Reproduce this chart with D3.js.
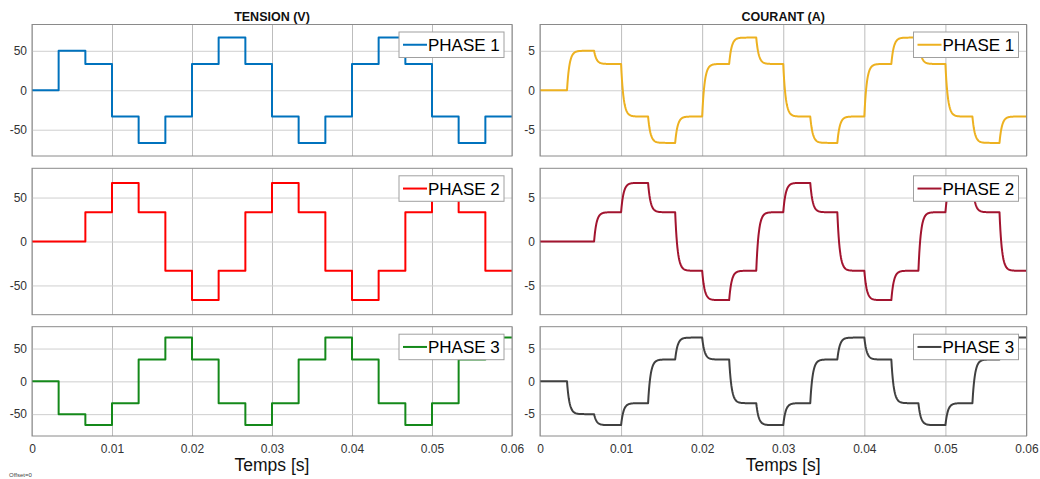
<!DOCTYPE html>
<html>
<head>
<meta charset="utf-8">
<script src="https://cdn.jsdelivr.net/npm/d3@7"></script>
<style>
  html, body { margin: 0; padding: 0; background: #fff; }
  svg { display: block; font-family: "Liberation Sans", Arial, Helvetica, sans-serif; }
</style>
</head>
<body>
<svg id="chart" width="1040" height="479"></svg>
<script>
// Switching instants of the six-step inverter (s); each level holds until the next instant
const switchTimes = [0, 0.00333, 0.00667, 0.01, 0.01333, 0.01667, 0.02, 0.02333, 0.02667,
                     0.03, 0.03333, 0.03667, 0.04, 0.04333, 0.04667, 0.05, 0.05333, 0.05667];
const tEnd = 0.06;

// Phase voltages (V) on each interval
const voltage1 = [0, 50, 33.3, -33.3, -66.7, -33.3, 33.3, 66.7, 33.3, -33.3, -66.7, -33.3, 33.3, 66.7, 33.3, -33.3, -66.7, -33.3];
const voltage2 = [0, 0, 33.3, 66.7, 33.3, -33.3, -66.7, -33.3, 33.3, 66.7, 33.3, -33.3, -66.7, -33.3, 33.3, 66.7, 33.3, -33.3];
const voltage3 = [0, -50, -66.7, -33.3, 33.3, 66.7, 33.3, -33.3, -66.7, -33.3, 33.3, 66.7, 33.3, -33.3, -66.7, -33.3, 33.3, 66.7];

// Settled phase currents (A) on each interval
const current1 = [0, 5, 3.33, -3.33, -6.67, -3.33, 3.33, 6.67, 3.33, -3.33, -6.67, -3.33, 3.33, 6.67, 3.33, -3.33, -6.67, -3.33];
const current2 = [0, 0, 3.33, 6.67, 3.33, -3.33, -6.67, -3.33, 3.33, 6.67, 3.33, -3.33, -6.67, -3.33, 3.33, 6.67, 3.33, -3.33];
const current3 = [0, -5, -6.67, -3.33, 3.33, 6.67, 3.33, -3.33, -6.67, -3.33, 3.33, 6.67, 3.33, -3.33, -6.67, -3.33, 3.33, 6.67];
// RL time constant of the load (s)
const tauRL = 0.0003;

const phaseNames = ["PHASE 1", "PHASE 2", "PHASE 3"];
const xTicks = [0, 0.01, 0.02, 0.03, 0.04, 0.05, 0.06];
const xTickLabels = ["0", "0.01", "0.02", "0.03", "0.04", "0.05", "0.06"];
const vTicks = [-50, 0, 50];
const vTickLabels = ["-50", "0", "50"];
const iTicks = [-5, 0, 5];
const iTickLabels = ["-5", "0", "5"];
const vLimit = 83.3;
const iLimit = 8.33;

const voltageColors = ["#0072BD", "#FF0000", "#14891A"];
const currentColors = ["#EDB120", "#A2142F", "#404040"];

const svg = d3.select("#chart");

const columns = [
  { x0: 32, x1: 512, title: "TENSION (V)", series: [voltage1, voltage2, voltage3],
    colors: voltageColors, ticks: vTicks, tickLabels: vTickLabels, limit: vLimit, stepped: true },
  { x0: 540, x1: 1026.5, title: "COURANT (A)", series: [current1, current2, current3],
    colors: currentColors, ticks: iTicks, tickLabels: iTickLabels, limit: iLimit, stepped: false }
];
const rows = [
  { y0: 24.5, y1: 156 },
  { y0: 168.3, y1: 314.7 },
  { y0: 326.7, y1: 436 }
];

// Step trace: one point per interval start plus the final instant
function stepPoints(levels) {
  const pts = levels.map((v, k) => [switchTimes[k], v]);
  pts.push([tEnd, levels[levels.length - 1]]);
  return pts;
}

// Current trace: first-order settling toward each interval's level
function lagPoints(levels) {
  const pts = [];
  let i = 0;
  levels.forEach((level, k) => {
    const t0 = switchTimes[k];
    const t1 = k + 1 < switchTimes.length ? switchTimes[k + 1] : tEnd;
    const start = i;
    const n = 60;
    for (let j = 0; j <= n; j++) {
      const dt = (t1 - t0) * j / n;
      const val = level + (start - level) * Math.exp(-dt / tauRL);
      pts.push([t0 + dt, val]);
    }
    i = level + (start - level) * Math.exp(-(t1 - t0) / tauRL);
  });
  return pts;
}

let clipId = 0;
columns.forEach((col, ci) => {
  const x = d3.scaleLinear().domain([0, tEnd]).range([col.x0, col.x1]);

  // column title
  svg.append("text")
    .attr("x", (col.x0 + col.x1) / 2)
    .attr("y", 20.5)
    .attr("text-anchor", "middle")
    .attr("font-size", "12.5px")
    .attr("font-weight", "bold")
    .attr("fill", "#111")
    .text(col.title);

  rows.forEach((row, ri) => {
    const y = d3.scaleLinear().domain([-col.limit, col.limit]).range([row.y1, row.y0]);
    const g = svg.append("g");

    // background
    g.append("rect")
      .attr("x", col.x0).attr("y", row.y0)
      .attr("width", col.x1 - col.x0).attr("height", row.y1 - row.y0)
      .attr("fill", "#fff");

    // vertical grid
    g.append("g")
      .attr("transform", `translate(0,${row.y1})`)
      .call(d3.axisBottom(x).tickValues(xTicks).tickSize(-(row.y1 - row.y0)).tickFormat(""))
      .call(a => a.select(".domain").remove())
      .call(a => a.selectAll("line").attr("stroke", "#bdbdbd").attr("stroke-width", 1));

    // horizontal grid
    g.append("g")
      .attr("transform", `translate(${col.x0},0)`)
      .call(d3.axisLeft(y).tickValues(col.ticks).tickSize(-(col.x1 - col.x0)).tickFormat(""))
      .call(a => a.select(".domain").remove())
      .call(a => a.selectAll("line").attr("stroke", "#cfcfcf").attr("stroke-width", 1));

    // y tick labels
    g.append("g")
      .attr("transform", `translate(${col.x0},0)`)
      .call(d3.axisLeft(y).tickValues(col.ticks).tickSize(0).tickPadding(5)
        .tickFormat((d, k) => col.tickLabels[k]))
      .call(a => a.select(".domain").remove())
      .call(a => a.selectAll("text")
        .attr("font-size", "12px")
        .attr("fill", "#333")
        .attr("font-family", "Liberation Sans, Arial, sans-serif"));

    // x tick labels on the bottom row only
    if (ri === rows.length - 1) {
      g.append("g")
        .attr("transform", `translate(0,${row.y1})`)
        .call(d3.axisBottom(x).tickValues(xTicks).tickSize(0).tickPadding(8)
          .tickFormat((d, k) => xTickLabels[k]))
        .call(a => a.select(".domain").remove())
        .call(a => a.selectAll("text")
          .attr("font-size", "12px")
          .attr("fill", "#333")
          .attr("font-family", "Liberation Sans, Arial, sans-serif"));
    }

    // trace
    const id = "clip" + (clipId++);
    svg.append("clipPath").attr("id", id)
      .append("rect")
      .attr("x", col.x0).attr("y", row.y0)
      .attr("width", col.x1 - col.x0).attr("height", row.y1 - row.y0);

    const levels = col.series[ri];
    const pts = col.stepped ? stepPoints(levels) : lagPoints(levels);
    const line = d3.line()
      .x(d => x(d[0]))
      .y(d => y(d[1]))
      .curve(col.stepped ? d3.curveStepAfter : d3.curveLinear);

    g.append("path")
      .datum(pts)
      .attr("clip-path", `url(#${id})`)
      .attr("fill", "none")
      .attr("stroke", col.colors[ri])
      .attr("stroke-width", 2)
      .attr("stroke-linejoin", "round")
      .attr("d", line);

    // axes box
    g.append("rect")
      .attr("x", col.x0).attr("y", row.y0)
      .attr("width", col.x1 - col.x0).attr("height", row.y1 - row.y0)
      .attr("fill", "none")
      .attr("stroke", "#8a8a8a")
      .attr("stroke-width", 1);

    // legend
    const lw = 105, lh = 25.5;
    const lx = col.x1 - 8 - lw, ly = row.y0 + 7.5;
    const lg = g.append("g");
    lg.append("rect")
      .attr("x", lx).attr("y", ly).attr("width", lw).attr("height", lh)
      .attr("fill", "#fff").attr("stroke", "#a0a0a0").attr("stroke-width", 1);
    lg.append("line")
      .attr("x1", lx + 4).attr("x2", lx + 28)
      .attr("y1", ly + lh / 2).attr("y2", ly + lh / 2)
      .attr("stroke", col.colors[ri]).attr("stroke-width", 2);
    lg.append("text")
      .attr("x", lx + 29).attr("y", ly + lh / 2 + 6.2)
      .attr("font-size", "17px")
      .attr("fill", "#000")
      .text(phaseNames[ri]);
  });

  // x axis label
  svg.append("text")
    .attr("x", (col.x0 + col.x1) / 2)
    .attr("y", 471)
    .attr("text-anchor", "middle")
    .attr("font-size", "17.5px")
    .attr("fill", "#111")
    .text("Temps [s]");
});

svg.append("text")
  .attr("x", 9)
  .attr("y", 477)
  .attr("font-size", "6px")
  .attr("fill", "#444")
  .text("Offset=0");
</script>
</body>
</html>
